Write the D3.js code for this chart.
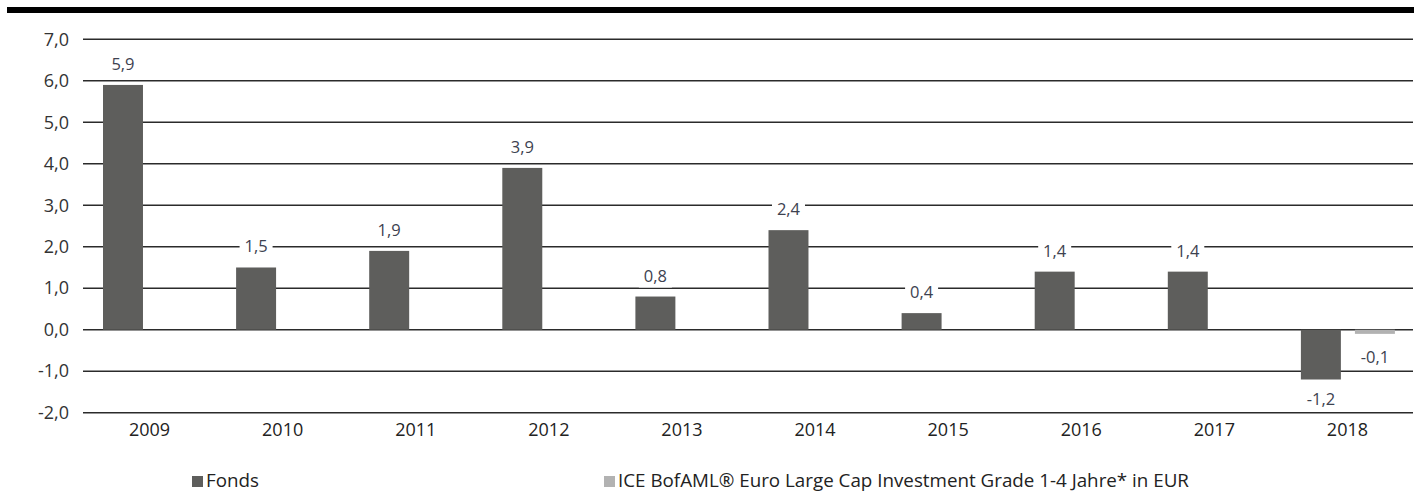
<!DOCTYPE html>
<html><head><meta charset="utf-8">
<script src="https://cdn.jsdelivr.net/npm/d3@7"></script>
<style>
html,body{margin:0;padding:0;background:#fff;}
svg{display:block;font-family:"Open Sans","Noto Sans",sans-serif;}
</style></head>
<body><svg id="c" width="1419" height="492"></svg>
<script>
const years = ["2009","2010","2011","2012","2013","2014","2015","2016","2017","2018"];
const fonds = [5.9, 1.5, 1.9, 3.9, 0.8, 2.4, 0.4, 1.4, 1.4, -1.2];
const benchmark = [null, null, null, null, null, null, null, null, null, -0.1];
const yTicks = [-2, -1, 0, 1, 2, 3, 4, 5, 6, 7];
const seriesNames = ["Fonds", "ICE BofAML® Euro Large Cap Investment Grade 1-4 Jahre* in EUR"];
const colors = ["#5e5e5c", "#b2b2b2"];

(function(){
const svg = d3.select("#c");
const mLeft = 83, mRight = 1414, mTop = 39.3, mBottom = 412.7;
const fmt = v => d3.format(".1f")(v).replace(".", ",").replace("−", "-");

const x0 = d3.scaleBand().domain(years).range([mLeft, mRight]).padding(0);
const x1 = d3.scaleBand().domain(["f","b"]).range([20, 114]).paddingInner(0.26).paddingOuter(0);
const y = d3.scaleLinear().domain([-2, 7]).range([mBottom, mTop]);

// top black rule
svg.append("rect").attr("x", 7).attr("y", 7).attr("width", 1407).attr("height", 6).attr("fill", "#000");

// gridlines
svg.append("g").selectAll("line").data(yTicks).join("line")
  .attr("x1", mLeft).attr("x2", mRight - 1)
  .attr("y1", d => y(d)).attr("y2", d => y(d))
  .attr("stroke", "#2b2b2b").attr("stroke-width", 1.6);

// y axis labels
const yAxis = d3.axisLeft(y).tickValues(yTicks).tickSize(0).tickPadding(0).tickFormat(fmt);
svg.append("g").attr("transform", `translate(69,0)`).call(yAxis)
  .call(g => g.select(".domain").remove())
  .selectAll("text").attr("font-size", 18).attr("fill", "#333").attr("font-family", "'Open Sans',sans-serif");

// x axis labels
const xAxis = d3.axisBottom(x0).tickSize(0).tickPadding(0);
svg.append("g").attr("transform", `translate(0,423)`).call(xAxis)
  .call(g => g.select(".domain").remove())
  .selectAll("text").attr("font-size", 18).attr("fill", "#222").attr("font-family", "'Open Sans',sans-serif");

const data = years.map((yr, i) => ({yr, f: fonds[i], b: benchmark[i]}));

function drawSeries(key, color, labelColor, negOffset) {
  const items = data.filter(d => d[key] != null);
  const g = svg.append("g");
  g.selectAll("rect").data(items).join("rect")
    .attr("x", d => x0(d.yr) + x1(key))
    .attr("width", x1.bandwidth())
    .attr("y", d => y(Math.max(0, d[key])))
    .attr("height", d => Math.abs(y(d[key]) - y(0)))
    .attr("fill", color);
  const lg = svg.append("g");
  items.forEach(d => {
    const cx = x0(d.yr) + x1(key) + x1.bandwidth() / 2;
    const v = d[key];
    const ty = v >= 0 ? y(v) - 15 : y(v) + negOffset;
    const t = fmt(v);
    const w = t.length * 9 + 6;
    lg.append("rect").attr("x", cx - w/2).attr("y", ty - 15).attr("width", w).attr("height", 21).attr("fill", "#fff");
    lg.append("text").attr("x", cx).attr("y", ty).attr("text-anchor", "middle")
      .attr("font-size", 16.5).attr("fill", labelColor).text(t);
  });
}
drawSeries("f", colors[0], "#3d4250", 25);
drawSeries("b", colors[1], "#3d4250", 29);

// legend
const legendX = [192, 604];
seriesNames.forEach((n, i) => {
  svg.append("rect").attr("x", legendX[i]).attr("y", 476).attr("width", 11).attr("height", 11).attr("fill", colors[i]);
  svg.append("text").attr("x", legendX[i] + 14).attr("y", 487).attr("font-size", 18.8).attr("fill", "#222").text(n);
});
})();
</script></body></html>
